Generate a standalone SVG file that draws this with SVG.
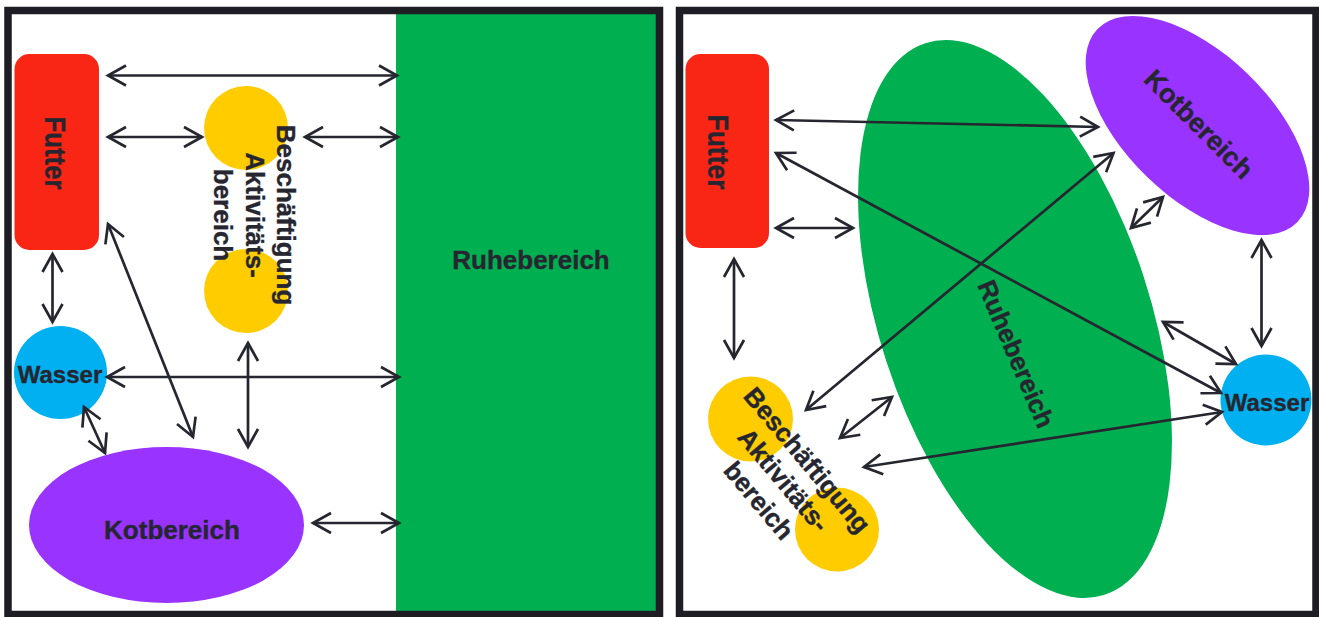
<svg xmlns="http://www.w3.org/2000/svg" width="1319" height="617" viewBox="0 0 1319 617">
  <style>
    .lbl { font-family: "Liberation Sans", Arial, sans-serif; font-weight: bold; fill: #262630; stroke: #262630; stroke-width: 0.35; text-anchor: middle; }
    .con { fill: none; stroke: #262630; stroke-width: 2.7; marker-start: url(#ah); marker-end: url(#ah); }
    .frame { fill: none; stroke: #1d1d23; stroke-width: 7.5; }
    .red { fill: #F92515; }
    .green { fill: #00AF50; }
    .yellow { fill: #FFCC00; }
    .blue { fill: #00B0F0; }
    .purple { fill: #9933FF; }
  </style>
  <defs>
    <marker id="ah" viewBox="-22 -14 28 28" refX="0" refY="0" markerWidth="28" markerHeight="28" markerUnits="userSpaceOnUse" orient="auto-start-reverse" overflow="visible">
      <path d="M-18,-10 L0,0 L-18,10" fill="none" stroke="#262630" stroke-width="2.7"/>
    </marker>
  </defs>
  <rect width="1319" height="617" fill="#ffffff"/>

  <!-- LEFT PANEL -->
  <g id="left-ruhebereich">
    <rect class="green" x="396" y="10" width="264" height="605"/>
    <text class="lbl" x="531" y="269" font-size="26">Ruhebereich</text>
  </g>
  <g id="left-futter">
    <rect class="red" x="14.5" y="54" width="84.5" height="196" rx="15"/>
    <text class="lbl" transform="translate(56,153) rotate(90)" x="0" y="11" font-size="30" textLength="73" lengthAdjust="spacingAndGlyphs">Futter</text>
  </g>
  <g id="left-beschaeftigung">
    <circle class="yellow" cx="246" cy="128" r="42"/>
    <circle class="yellow" cx="246" cy="291" r="42"/>
    <g transform="translate(255,215) rotate(90)">
      <text class="lbl" x="0" y="-22" font-size="26">Beschäftigung</text>
      <text class="lbl" x="0" y="9" font-size="26">Aktivitäts-</text>
      <text class="lbl" x="0" y="41" font-size="26">bereich</text>
    </g>
  </g>
  <g id="left-wasser">
    <circle class="blue" cx="60.5" cy="372.5" r="46.5"/>
    <text class="lbl" x="60" y="383" font-size="24">Wasser</text>
  </g>
  <g id="left-kotbereich">
    <ellipse class="purple" cx="166.5" cy="525" rx="137.5" ry="78"/>
    <text class="lbl" x="172" y="539" font-size="26">Kotbereich</text>
  </g>

  <!-- RIGHT PANEL -->
  <g id="right-ruhebereich">
    <ellipse class="green" cx="1015" cy="319" rx="135.5" ry="290" transform="rotate(-18 1015 319)"/>
    <text class="lbl" transform="translate(1016,354) rotate(67)" x="0" y="9" font-size="26">Ruhebereich</text>
  </g>
  <g id="right-kotbereich">
    <ellipse class="purple" cx="1197.5" cy="125.5" rx="139" ry="72" transform="rotate(44 1197.5 125.5)"/>
    <text class="lbl" transform="translate(1199,124) rotate(45)" x="0" y="9.5" font-size="27">Kotbereich</text>
  </g>
  <g id="right-futter">
    <rect class="red" x="685.5" y="54" width="83.5" height="194" rx="15"/>
    <text class="lbl" transform="translate(718.5,152) rotate(90)" x="0" y="10.5" font-size="30" textLength="75" lengthAdjust="spacingAndGlyphs">Futter</text>
  </g>
  <g id="right-wasser">
    <circle class="blue" cx="1266" cy="400" r="45.5"/>
    <text class="lbl" x="1267" y="411" font-size="24">Wasser</text>
  </g>
  <g id="right-beschaeftigung">
    <circle class="yellow" cx="750.5" cy="419" r="42.5"/>
    <circle class="yellow" cx="837" cy="529.5" r="42"/>
    <g transform="translate(783.5,480) rotate(50)">
      <text class="lbl" x="0" y="-22" font-size="26">Beschäftigung</text>
      <text class="lbl" x="0" y="9" font-size="26">Aktivitäts-</text>
      <text class="lbl" x="0" y="41" font-size="26">bereich</text>
    </g>
  </g>

  <!-- CONNECTORS -->
  <g id="connectors">
    <line class="con" x1="108" y1="75.5" x2="397" y2="75.5"/>
    <line class="con" x1="108" y1="137" x2="202" y2="137"/>
    <line class="con" x1="305" y1="137" x2="398" y2="137"/>
    <line class="con" x1="52.5" y1="254" x2="52.5" y2="322"/>
    <line class="con" x1="108" y1="224" x2="193" y2="437"/>
    <line class="con" x1="107" y1="377" x2="399" y2="377"/>
    <line class="con" x1="248" y1="343" x2="248" y2="447"/>
    <line class="con" x1="84" y1="407" x2="105" y2="453"/>
    <line class="con" x1="313" y1="523" x2="399" y2="523"/>

    <line class="con" x1="776" y1="120" x2="1098" y2="127"/>
    <line class="con" x1="776" y1="153" x2="1221" y2="393"/>
    <line class="con" x1="776" y1="228" x2="853" y2="228"/>
    <line class="con" x1="734" y1="259" x2="734" y2="358"/>
    <line class="con" x1="1113.5" y1="153" x2="806" y2="410"/>
    <line class="con" x1="1163" y1="197" x2="1131" y2="228"/>
    <line class="con" x1="1261.5" y1="240" x2="1261.5" y2="346"/>
    <line class="con" x1="1163" y1="322" x2="1236" y2="364"/>
    <line class="con" x1="892" y1="397" x2="840" y2="438"/>
    <line class="con" x1="864" y1="467" x2="1222" y2="412"/>
  </g>

  <!-- FRAMES -->
  <rect class="frame" x="8" y="10.5" width="651.5" height="604"/>
  <rect class="frame" x="679.5" y="10.5" width="636.5" height="604"/>
</svg>
